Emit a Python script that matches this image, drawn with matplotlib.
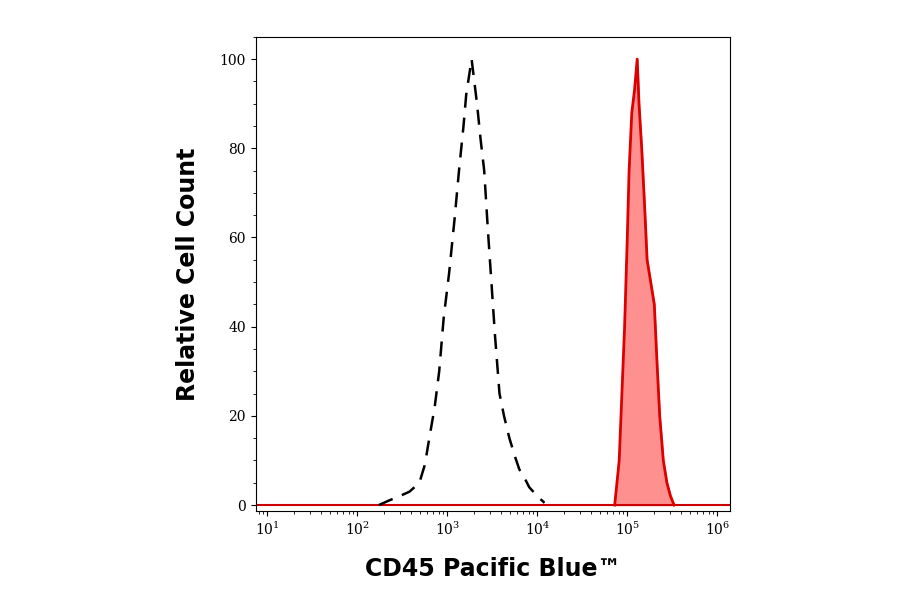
import numpy as np
import matplotlib.pyplot as plt
from matplotlib.ticker import MultipleLocator, LogLocator, NullFormatter

# log10 of CD45 Pacific Blue intensity, relative count
iso_log = [2.24, 2.35, 2.47, 2.58, 2.69, 2.75, 2.8, 2.86, 2.91, 2.96, 3.02, 3.08, 3.13,
           3.18, 3.21, 3.27, 3.3, 3.33, 3.37, 3.41, 3.45, 3.49, 3.53, 3.58, 3.63, 3.69,
           3.75, 3.8, 3.86, 3.91, 4.0, 4.08]
iso_y = [0, 1, 2, 3, 5, 9, 15, 22, 30, 42, 52, 64, 75, 85, 92, 100, 95, 90, 82, 75,
         62, 50, 38, 25, 20, 15, 11, 8, 6, 4, 2, 0.5]

cd45_log = [4.86, 4.91, 4.94, 4.97, 5.0, 5.02, 5.05, 5.08, 5.11, 5.13, 5.16, 5.19,
            5.22, 5.26, 5.3, 5.33, 5.36, 5.4, 5.44, 5.48, 5.52]
cd45_y = [0, 10, 25, 40, 60, 75, 88, 93, 100, 90, 80, 68, 55, 50, 45, 32, 20, 10, 5, 2, 0]

iso_x = 10 ** np.array(iso_log)
cd45_x = 10 ** np.array(cd45_log)

fig = plt.figure(figsize=(9, 5.94), dpi=100)
ax = fig.add_axes([0.284, 0.14, 0.527, 0.798])

ax.plot([10**0.87, 10**6.14], [0, 0], color="#cc0000", linewidth=1.5)
ax.plot(iso_x, iso_y, color="black", linestyle=(0, (6, 4)), linewidth=1.8)
ax.fill_between(cd45_x, cd45_y, color="#ff9090")
ax.plot(cd45_x, cd45_y, color="#dd0000", linewidth=2)

ax.set_xscale("log")
ax.set_xlim(10**0.87, 10**6.14)
ax.set_ylim(-1.3, 105)
ax.xaxis.set_major_locator(LogLocator(base=10, numticks=10))
ax.xaxis.set_minor_locator(LogLocator(base=10, subs=np.arange(2, 10), numticks=20))
ax.xaxis.set_minor_formatter(NullFormatter())
ax.yaxis.set_major_locator(MultipleLocator(20))
ax.yaxis.set_minor_locator(MultipleLocator(5))

for lab in ax.get_xticklabels() + ax.get_yticklabels():
    lab.set_family("DejaVu Serif")
    lab.set_fontsize(10)

ax.set_xlabel("CD45 Pacific Blue™", fontsize=17, fontweight="bold", labelpad=14)
ax.set_ylabel("Relative Cell Count", fontsize=17, fontweight="bold", labelpad=14)

plt.savefig("out.png", dpi=100)
